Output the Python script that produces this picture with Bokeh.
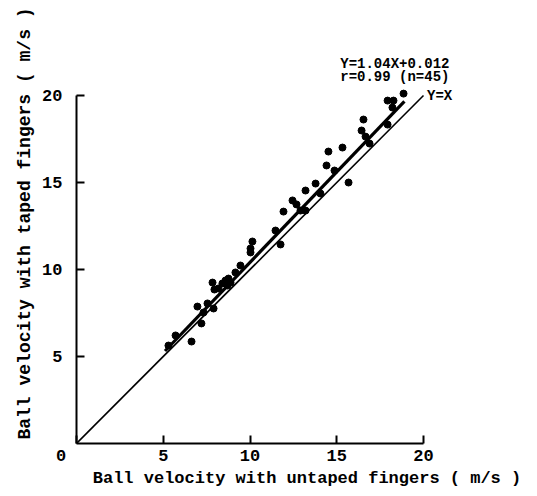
from bokeh.plotting import figure
from bokeh.models import Range1d, FixedTicker, Label
from bokeh.embed import file_html
from bokeh.resources import INLINE

# Data
untaped = [6.63, 7.20, 6.97, 7.90, 7.84, 7.95, 7.32, 7.55, 8.41, 8.59,
           8.76, 8.70, 8.18, 8.88, 5.71, 5.30, 9.45, 10.03, 10.14, 10.03,
           11.76, 11.47, 11.93, 12.45, 12.91, 13.20, 13.20, 13.78, 14.06, 14.41,
           14.87, 15.68, 14.52, 15.33, 16.54, 16.43, 16.66, 16.89, 17.93, 18.27,
           18.85, 18.21, 17.93, 12.68, 9.16]
taped = [5.86, 6.90, 7.87, 7.76, 9.25, 8.85, 7.53, 8.05, 9.20, 9.37,
         9.48, 9.08, 8.91, 9.25, 6.21, 5.63, 10.23, 10.98, 11.61, 11.21,
         11.44, 12.24, 13.33, 13.97, 13.39, 13.39, 14.54, 14.94, 14.37, 15.98,
         15.69, 15.00, 16.78, 17.01, 18.62, 17.99, 17.64, 17.24, 19.71, 19.71,
         20.11, 19.31, 18.33, 13.74, 9.83]
slope = 1.04
intercept = 0.012
fit_x = [5.1, 18.9]
identity = [0, 20]
x_ticks = [0, 5, 10, 15, 20]
y_ticks = [5, 10, 15, 20]

FONT = "Liberation Mono"

p = figure(width=537, height=496, output_backend="svg", toolbar_location=None,
           x_range=Range1d(0, 26.57), y_range=Range1d(0, 25.29),
           min_border_left=76, min_border_right=0, min_border_top=3,
           min_border_bottom=53, outline_line_color=None)
p.grid.visible = False
p.background_fill_color = "white"

p.xaxis.ticker = FixedTicker(ticks=x_ticks)
p.yaxis.ticker = FixedTicker(ticks=y_ticks)
p.xaxis.major_label_overrides = {0: "0\u00a0\u00a0\u00a0"}

for ax in (p.xaxis[0], p.yaxis[0]):
    ax.bounds = (0, 20)
    ax.axis_line_width = 2
    ax.axis_line_color = "black"
    ax.major_tick_in = 8
    ax.major_tick_out = 0
    ax.major_tick_line_width = 2
    ax.minor_tick_line_color = None
    ax.major_label_text_font = FONT
    ax.major_label_text_font_size = "17px"
    ax.major_label_text_font_style = "bold"
    ax.major_label_text_color = "black"
    ax.axis_label_text_font = FONT
    ax.axis_label_text_font_style = "bold"
    ax.axis_label_text_color = "black"
p.yaxis.major_label_standoff = 14
p.xaxis.major_label_standoff = 3
p.xaxis.axis_label = "Ball velocity with untaped fingers ( m/s )"
p.yaxis.axis_label = "Ball velocity with taped fingers ( m/s )"
p.xaxis.axis_label_text_font_size = "17px"
p.yaxis.axis_label_text_font_size = "18px"
p.xaxis.axis_label_standoff = 0
p.yaxis.axis_label_standoff = 4

# identity line and regression line
p.line(identity, identity, line_color="black", line_width=1.6)
p.line(fit_x, [slope * v + intercept for v in fit_x], line_color="black", line_width=3.2)
p.scatter(untaped, taped, size=7, fill_color="black", line_color="black")

def lab(x, y, t, size="14px"):
    p.add_layout(Label(x=x, y=y, text=t, text_font=FONT, text_font_size=size,
                       text_font_style="bold", text_color="black",
                       text_align="left", text_baseline="middle"))

lab(15.2, 21.8, "Y=1.04X+0.012")
lab(15.2, 21.05, "r=0.99 (n=45)")
lab(20.2, 20.0, "Y=X")

open("out.html", "w").write(file_html(p, INLINE))
